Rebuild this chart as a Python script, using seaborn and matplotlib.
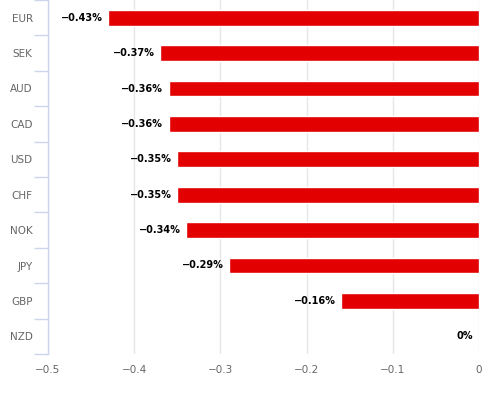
import matplotlib
matplotlib.use("Agg")
import matplotlib.pyplot as plt
import seaborn as sns
import pandas as pd
import numpy as np

currencies = ["EUR", "SEK", "AUD", "CAD", "USD", "CHF", "NOK", "JPY", "GBP", "NZD"]
values = [-0.43, -0.37, -0.36, -0.36, -0.35, -0.35, -0.34, -0.29, -0.16, 0.0]
labels = ["\u22120.43%", "\u22120.37%", "\u22120.36%", "\u22120.36%", "\u22120.35%",
          "\u22120.35%", "\u22120.34%", "\u22120.29%", "\u22120.16%", "0%"]
xticks = [-0.5, -0.4, -0.3, -0.2, -0.1, 0.0]
xticklabels = ["\u22120.5", "\u22120.4", "\u22120.3", "\u22120.2", "\u22120.1", "0"]

sns.set_style("white")
plt.rcParams['font.family'] = ['DejaVu Sans']

df = pd.DataFrame({"currency": currencies, "value": values})

fig = plt.figure(figsize=(5.01, 3.94), dpi=100)
ax = fig.add_axes([48 / 501, 40 / 394, 431 / 501, 354 / 394])

sns.barplot(data=df, x="value", y="currency", orient="h", color="#e30000",
            saturation=1, width=0.45, ax=ax)

ax.set_xlim(-0.5, 0.0)
ax.set_ylim(9.5, -0.5)
ax.set_xticks(xticks)
ax.set_xticklabels(xticklabels, color="#666666", fontsize=7.5)
ax.tick_params(axis="x", length=0, pad=8)
ax.set_yticks(range(len(currencies)))
ax.set_yticklabels(currencies, color="#666666", fontsize=7.5)
ax.tick_params(axis="y", which="major", length=0, pad=11)
# Boundary tick marks
ax.set_yticks(np.arange(-0.5, len(currencies), 1.0), minor=True)
ax.tick_params(axis="y", which="minor", left=True, length=10, color="#ccd6eb", width=1)
ax.set_xlabel("")
ax.set_ylabel("")

for x in xticks:
    ax.axvline(x, color="#e6e6e6", lw=1, zorder=0)

for s in ["top", "right", "bottom"]:
    ax.spines[s].set_visible(False)
ax.spines["left"].set_color("#ccd6eb")
ax.spines["left"].set_linewidth(1)

for i, (v, lab) in enumerate(zip(values, labels)):
    ax.annotate(lab, xy=(v, i), xytext=(-4, 0), textcoords="offset points",
                ha="right", va="center", fontsize=7, fontweight="bold", color="#000000",
                annotation_clip=False)

fig.savefig("out.png", dpi=100)
